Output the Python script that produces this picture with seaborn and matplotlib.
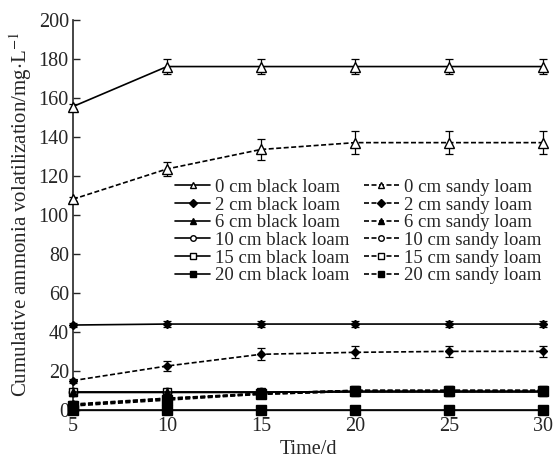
import numpy as np
import pandas as pd
import matplotlib
matplotlib.use("Agg")
import matplotlib.pyplot as plt
import seaborn as sns

days = [5, 10, 15, 20, 25, 30]

labels = ["0 cm black loam", "0 cm sandy loam",
          "2 cm black loam", "2 cm sandy loam",
          "6 cm black loam", "6 cm sandy loam",
          "10 cm black loam", "10 cm sandy loam",
          "15 cm black loam", "15 cm sandy loam",
          "20 cm black loam", "20 cm sandy loam"]

bl0 = [155.5, 176, 176, 176, 176, 176]
sl0 = [108, 123.5, 133.5, 137, 137, 137]
bl2 = [43.5, 44, 44, 44, 44, 44]
sl2 = [15, 22.5, 28.5, 29.5, 30, 30]
bl6 = [9, 9, 9, 9, 9, 9]
sl6 = [3, 6, 8.5, 10, 10, 10]
bl10 = [9, 9, 9, 9.5, 9.5, 9.5]
sl10 = [2.5, 6, 8, 9.5, 9.5, 9.5]
bl15 = [9, 9, 9, 9.5, 9.5, 9.5]
sl15 = [2.5, 5.5, 8.5, 10, 10, 10]
bl20 = [0, 0, 0, 0, 0, 0]
sl20 = [2, 5, 8, 9.5, 9.5, 9.5]

e_bl0 = [1.5, 4, 4, 4, 4, 4]
e_sl0 = [1, 3.5, 5.5, 6, 6, 6]
e_bl2 = [1, 1.5, 1.5, 1.5, 1.5, 1.5]
e_sl2 = [1, 2.5, 3, 3, 3, 3]
e_small = [0.5, 0.5, 0.5, 0.5, 0.5, 0.5]

values = [bl0, sl0, bl2, sl2, bl6, sl6, bl10, sl10, bl15, sl15, bl20, sl20]
errors = [e_bl0, e_sl0, e_bl2, e_sl2, e_small, e_small, e_small, e_small,
          e_small, e_small, e_small, e_small]

sns.set_theme(style="ticks")
plt.rcParams['font.family'] = ['Liberation Serif', 'DejaVu Serif']
plt.rcParams['mathtext.fontset'] = 'stix'

fig, ax = plt.subplots(figsize=(5.53, 4.59), dpi=100)
fig.subplots_adjust(left=0.132, right=0.982, top=0.957, bottom=0.107)

markers = ['^', '^', 'D', 'D', '^', '^', 'o', 'o', 's', 's', 's', 's']
filled = [False, False, True, True, True, True, False, False, False, False, True, True]
msizes = [6.5, 6.5, 4.5, 4.5, 6, 6, 6, 6, 6, 6, 6.5, 6.5]

rows = []
for lab, v in zip(labels, values):
    for d, y in zip(days, v):
        rows.append({"day": d, "value": y, "series": lab})
df = pd.DataFrame(rows)

for i, (lab, v, e) in enumerate(zip(labels, values, errors)):
    ls = '-' if i % 2 == 0 else (0, (3, 1.5))
    fc = 'black' if filled[i] else 'white'
    z = 3 + i * 0.01 if i != 4 else 3.095
    sub = df[df.series == lab]
    ax.errorbar(days, v, yerr=e, fmt='none', ecolor='black', elinewidth=0.9,
                capsize=3, capthick=0.9, clip_on=False, zorder=2)
    sns.lineplot(data=sub, x="day", y="value", ax=ax, color='black',
                 linestyle=ls, linewidth=1.2, marker=markers[i],
                 markersize=msizes[i], markerfacecolor=fc,
                 markeredgecolor='black', markeredgewidth=1.0,
                 label=lab, clip_on=False, zorder=z, errorbar=None)

ax.set_xlim(5, 30)
ax.set_ylim(0, 200)
ax.set_xticks(days)
ax.set_yticks(range(0, 201, 20))
ax.tick_params(axis='y', direction='in', length=5, width=1, labelsize=14.5, pad=3)
ax.tick_params(axis='x', length=0, labelsize=14.5, pad=5)
for s in ['top', 'right']:
    ax.spines[s].set_visible(False)
ax.spines['left'].set_linewidth(1.2)
ax.spines['bottom'].set_linewidth(1.0)
ax.set_xlabel("Time/d", fontsize=14.5, labelpad=3)
ax.set_ylabel("Cumulative ammonia volatilization/mg$\\cdot$L$^{-1}$", fontsize=15, labelpad=3)

handles, labs = ax.get_legend_handles_labels()
hmap = dict(zip(labs, handles))
ordered = labels[0::2] + labels[1::2]
leg = ax.legend([hmap[l] for l in ordered], ordered,
                ncol=2, frameon=False, fontsize=13.5, loc='upper left',
                bbox_to_anchor=(0.201, 0.6115), handlelength=1.87, handletextpad=0.27,
                columnspacing=0.75, labelspacing=0.03, borderaxespad=0)
for h in leg.legend_handles:
    h.set_markersize(4)

fig.savefig("out.png", dpi=100)
